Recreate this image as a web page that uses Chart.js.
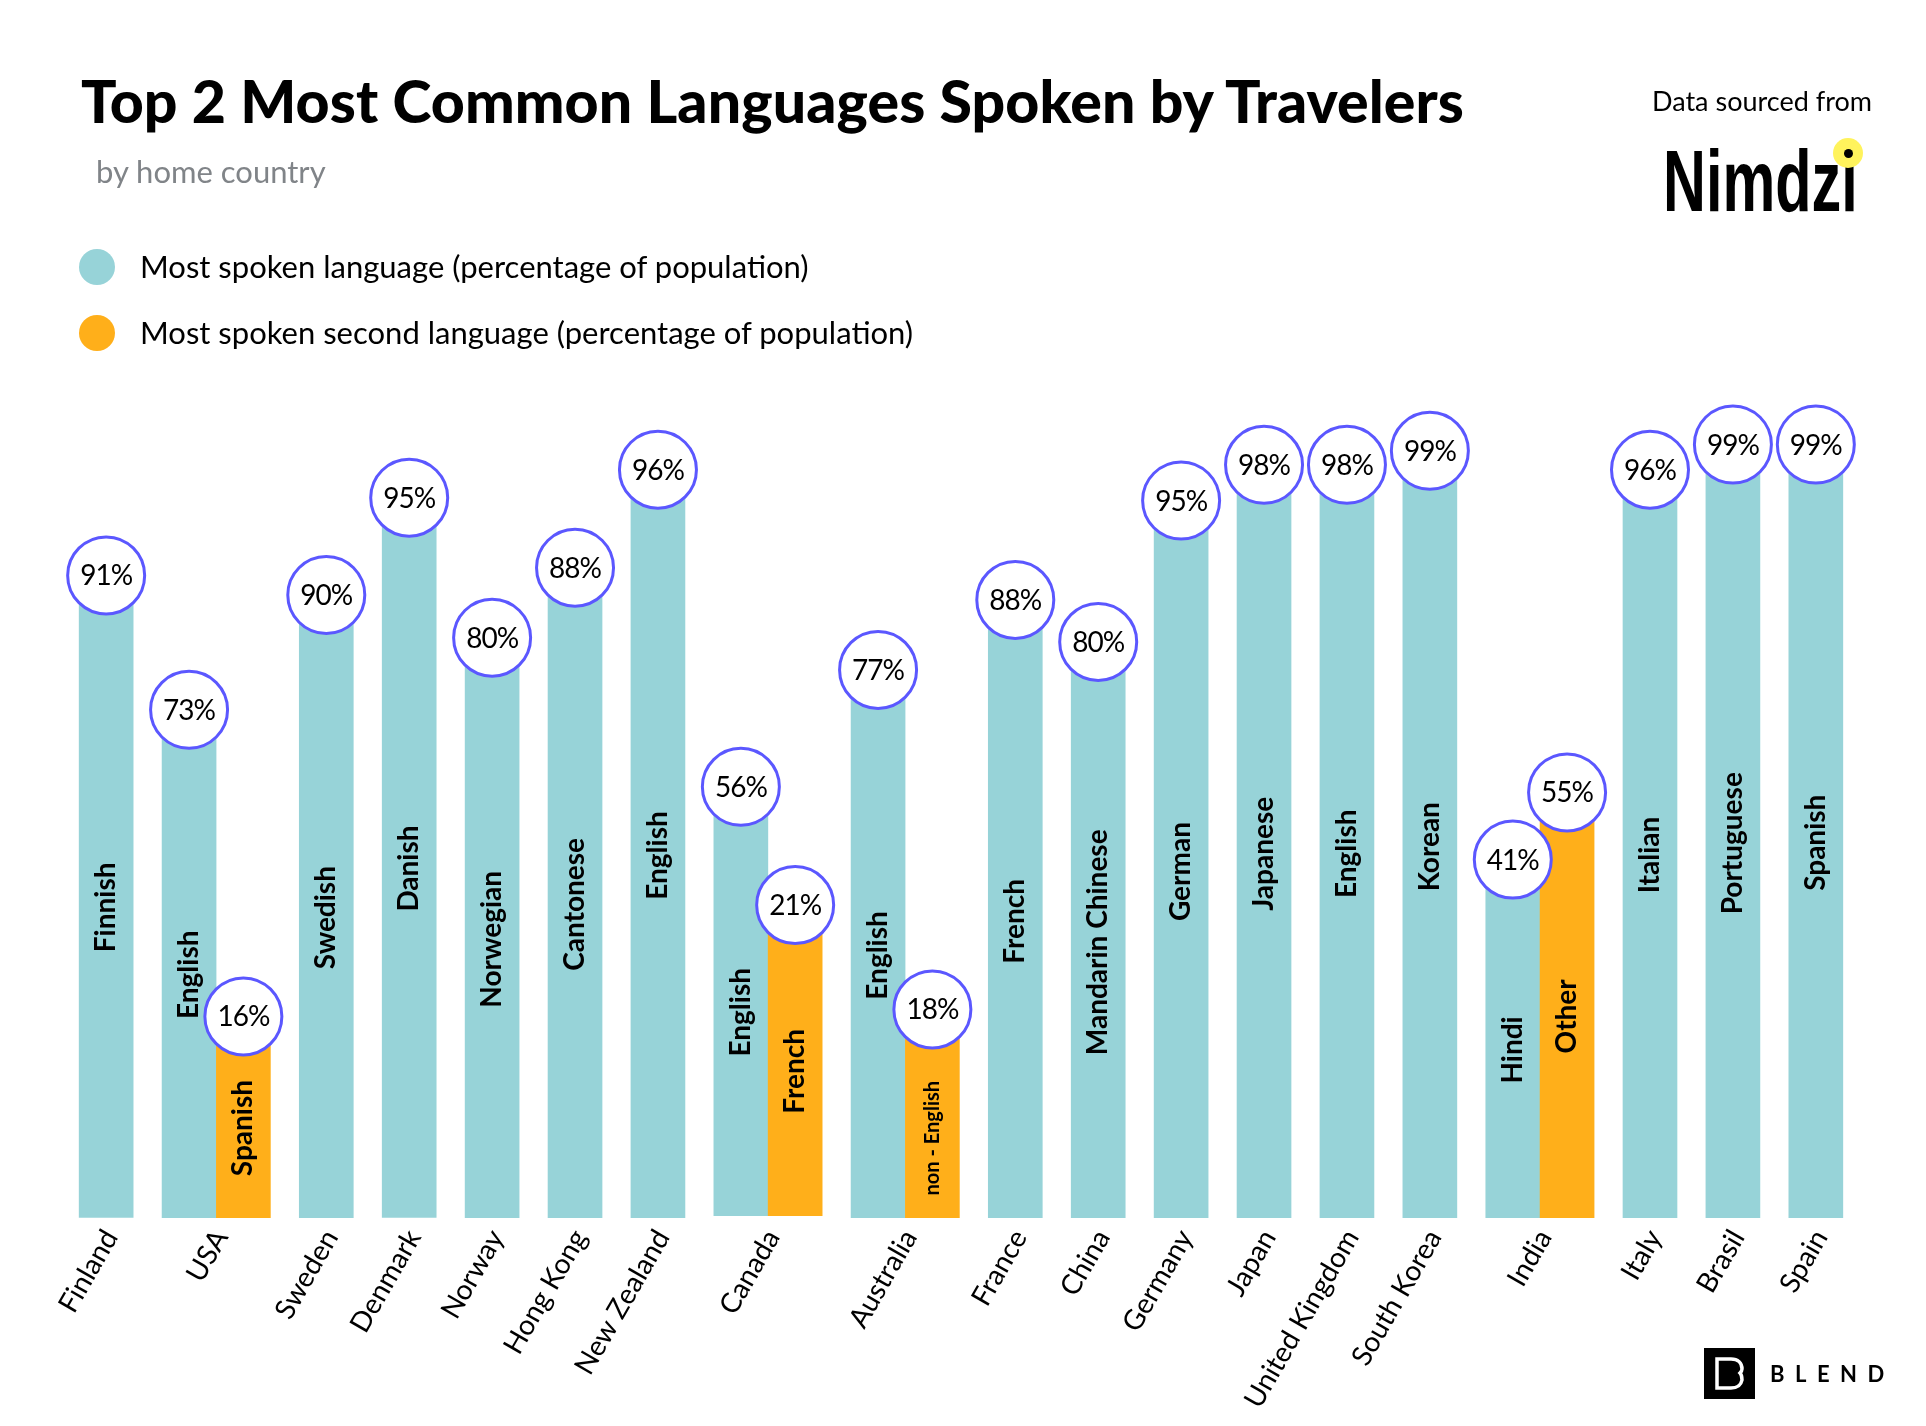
<!DOCTYPE html>
<html>
<head>
<meta charset="utf-8">
<title>Top 2 Most Common Languages Spoken by Travelers</title>
<script src="https://cdn.jsdelivr.net/npm/chart.js@4"></script>
<style>
  html, body { margin: 0; background: #fff; }
  #page { position: relative; width: 1926px; height: 1426px; overflow: hidden; font-family: Lato, sans-serif; color: #000; }
  #chart { position: absolute; left: 0; top: 0; }
  .txt { position: absolute; white-space: nowrap; line-height: 1; }
  #title { left: 81px; top: 71px; font-size: 59px; font-weight: 900; letter-spacing: 0.1px; }
  #subtitle { left: 96px; top: 156px; font-size: 31px; color: #808488; }
  .dot { position: absolute; left: 79px; width: 36px; height: 36px; border-radius: 50%; }
  .legend { left: 140px; font-size: 31px; }
  #source { top: 87px; font-size: 27px; left: 1652px; }
  #nimdzi { left: 1663px; top: 137px; font-size: 88px; font-weight: 700; font-family: "Liberation Sans Narrow", "Liberation Sans", sans-serif; transform-origin: left top; transform: scaleX(0.675); }
  #sun { position: absolute; left: 1833px; top: 138px; width: 30px; height: 30px; border-radius: 50%; background: #fff35c; }
  #sun i { position: absolute; left: 10.5px; top: 10.5px; width: 9px; height: 9px; border-radius: 50%; background: #000; }
  #blendMark { position: absolute; left: 1704px; top: 1348px; }
  #blend { left: 1770px; top: 1363px; font-size: 22px; font-weight: 700; letter-spacing: 10.5px; }
</style>
</head>
<body>
<div id="page">
  <canvas id="chart" width="1926" height="1426"></canvas>
  <div class="txt" id="title">Top 2 Most Common Languages Spoken by Travelers</div>
  <div class="txt" id="subtitle">by home country</div>
  <div class="dot" style="top:249px;background:#97d3d8"></div>
  <div class="txt legend" style="top:251px">Most spoken language (percentage of population)</div>
  <div class="dot" style="top:315px;background:#ffaf1a"></div>
  <div class="txt legend" style="top:317px">Most spoken second language (percentage of population)</div>
  <div class="txt" id="source">Data sourced from</div>
  <div class="txt" id="nimdzi">Nimdzi</div>
  <div id="sun"><i></i></div>
  <svg id="blendMark" width="51" height="51" viewBox="0 0 51 51">
    <rect width="51" height="51" fill="#000"/>
    <path d="M13 15 H27 C34 15 38 19 38 25 C38 27 37 28 36 29 C38 31 38 33 38 36 C37 41 33 44 27 44 H13 Z" fill="none" stroke="#fff" stroke-width="3.5" transform="translate(0,-4)"/>
  </svg>
  <div class="txt" id="blend">BLEND</div>
</div>

<script>
// ── DATA ──────────────────────────────────────────────────────────────
const categories = ['Finland', 'USA', 'Sweden', 'Denmark', 'Norway', 'Hong Kong', 'New Zealand', 'Canada', 'Australia', 'France', 'China', 'Germany', 'Japan', 'United Kingdom', 'South Korea', 'India', 'Italy', 'Brasil', 'Spain'];

const primaryLang = ['Finnish', 'English', 'Swedish', 'Danish', 'Norwegian', 'Cantonese', 'English', 'English', 'English', 'French', 'Mandarin Chinese', 'German', 'Japanese', 'English', 'Korean', 'Hindi', 'Italian', 'Portuguese', 'Spanish'];
const primaryPct = [91, 73, 90, 95, 80, 88, 96, 56, 77, 88, 80, 95, 98, 98, 99, 41, 96, 99, 99];

const secondaryLang = [null, 'Spanish', null, null, null, null, null, 'French', 'non - English', null, null, null, null, null, null, 'Other', null, null, null];
const secondaryPct = [null, 16, null, null, null, null, null, 21, 18, null, null, null, null, null, null, 55, null, null, null];

// The bars in the picture are hand drawn, not to scale with the printed
// numbers, so the heights as drawn are kept apart from the printed percentages.
const primaryDrawn = [91.8, 72.6, 89.0, 102.9, 82.9, 92.9, 106.9, 61.6, 78.3, 88.3, 82.3, 102.5, 107.6, 107.6, 109.6, 51.2, 106.9, 110.5, 110.5];
const secondaryDrawn = [null, 28.8, null, null, null, null, null, 44.7, 29.8, null, null, null, null, null, null, 60.8, null, null, null];
const barFoot = [0.1, 0.04, -0.04, 0.1, -0.14, -0.14, -0.19, 0.33, -0.14, -0.38, -0.38, -0.38, -0.38, -0.38, -0.38, -0.04, -0.04, -0.29, -0.14];

const smallLabels = ['non - English'];

const TEAL = '#97d3d8';
const ORANGE = '#ffaf1a';
const RING = '#5b57ff';

// ── LAYOUT ON THE X AXIS (in bar widths) ──────────────────────────────
const X_MAX = 35.47;
const FIRST_EDGE = 1.455;
const GAP = 0.527;

let edge = FIRST_EDGE;
const primaryX = [];
const secondaryX = [];
const groupX = [];
categories.forEach((c, i) => {
  const hasSecond = secondaryPct[i] !== null;
  primaryX.push(edge + 0.5);
  secondaryX.push(hasSecond ? edge + 1.5 : null);
  groupX.push(edge + (hasSecond ? 1 : 0.5));
  edge += (hasSecond ? 2 : 1) + GAP;
});

const primaryBars = categories.map((c, i) => ({ x: primaryX[i], y: [barFoot[i], primaryDrawn[i]] }));
const secondaryBars = categories
  .map((c, i) => ({ x: secondaryX[i], y: [barFoot[i], secondaryDrawn[i]] }))
  .filter(p => p.x !== null);

const circlePoints = [];
const circleText = [];
categories.forEach((c, i) => {
  circlePoints.push({ x: primaryX[i], y: primaryDrawn[i] });
  circleText.push(primaryPct[i] + '%');
  if (secondaryPct[i] !== null) {
    circlePoints.push({ x: secondaryX[i], y: secondaryDrawn[i] });
    circleText.push(secondaryPct[i] + '%');
  }
});

// ── TEXT ON THE MARKS ─────────────────────────────────────────────────
const markText = {
  id: 'markText',
  afterDatasetsDraw(chart) {
    const ctx = chart.ctx;
    ctx.save();
    ctx.textAlign = 'center';
    ctx.textBaseline = 'middle';
    ctx.fillStyle = '#000';

    const langs = [primaryLang, secondaryLang.filter(l => l !== null)];
    langs.forEach((names, d) => {
      chart.getDatasetMeta(d).data.forEach((bar, i) => {
        const small = smallLabels.includes(names[i]);
        ctx.save();
        ctx.translate(bar.x, (bar.y + bar.base) / 2 + (small ? 24 : 11));
        ctx.rotate(-Math.PI / 2);
        ctx.font = (small ? '700 20px' : '700 28px') + ' Lato, sans-serif';
        ctx.fillText(names[i], 0, 0);
        ctx.restore();
      });
    });

    ctx.font = '400 28px Lato, sans-serif';
    ctx.letterSpacing = '-1px';
    chart.getDatasetMeta(2).data.forEach((pt, i) => {
      ctx.fillText(circleText[i], pt.x, pt.y + 1);
    });
    ctx.restore();
  }
};

new Chart(document.getElementById('chart'), {
  type: 'bar',
  data: {
    datasets: [
      { label: 'Most spoken language (percentage of population)', data: primaryBars, backgroundColor: TEAL, barThickness: 54, grouped: false, order: 3 },
      { label: 'Most spoken second language (percentage of population)', data: secondaryBars, backgroundColor: ORANGE, barThickness: 54, grouped: false, order: 2 },
      { type: 'scatter', data: circlePoints, pointRadius: 38.5, pointBorderWidth: 3, pointBackgroundColor: '#fff', pointBorderColor: RING, order: 1 }
    ]
  },
  plugins: [markText],
  options: {
    responsive: false,
    animation: false,
    events: [],
    layout: { autoPadding: false, padding: { top: 378, left: 0, right: 0, bottom: 0 } },
    plugins: { legend: { display: false }, tooltip: { enabled: false } },
    scales: {
      x: {
        type: 'linear', min: 0, max: X_MAX, offset: false,
        grid: { display: false }, border: { display: false },
        afterBuildTicks: axis => { axis.ticks = groupX.map(v => ({ value: v + 0.09 })); },
        afterFit: axis => { axis.height = 208; axis.paddingLeft = 0; axis.paddingRight = 0; },
        ticks: {
          autoSkip: false, minRotation: 60, maxRotation: 60, padding: -2,
          color: '#000', font: { family: 'Lato, sans-serif', size: 28, weight: 400 },
          callback: (v, i) => categories[i]
        }
      },
      y: { display: false, min: 0, max: 120 }
    }
  }
});
</script>
</body>
</html>
